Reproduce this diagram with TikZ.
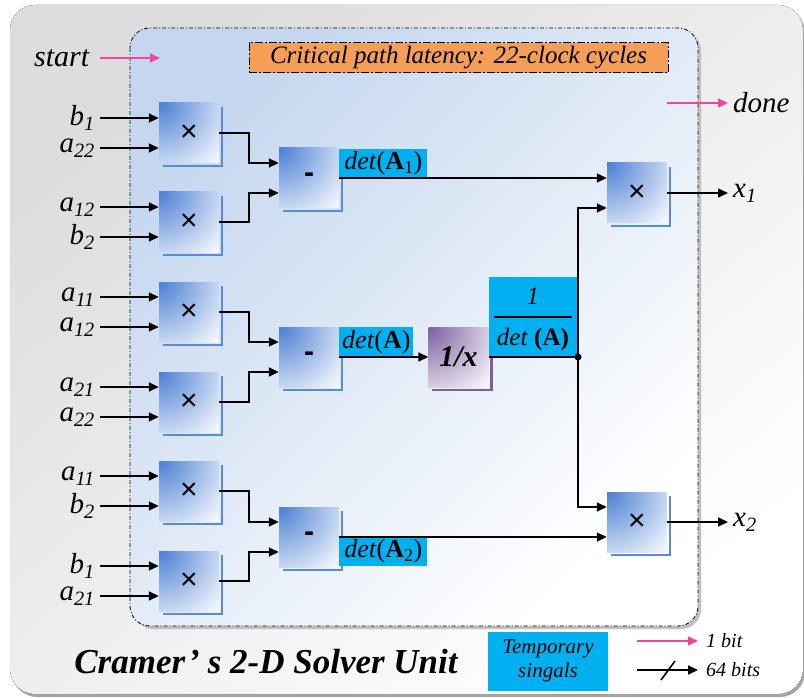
\documentclass[tikz,border=0pt]{standalone}
\usepackage{fontspec}
\setmainfont{Liberation Serif}[ItalicFont={Liberation Serif Italic},BoldItalicFont={Liberation Serif Bold Italic}]
\newfontfamily\opfont{Liberation Sans}
\usetikzlibrary{arrows.meta}
\definecolor{mulblue}{RGB}{74,127,212}
\definecolor{shadblue}{RGB}{88,140,215}
\definecolor{invpurple}{RGB}{125,95,160}
\definecolor{tmpcyan}{RGB}{0,176,240}
\definecolor{critorange}{RGB}{245,158,88}
\definecolor{bitpink}{RGB}{240,70,150}
\definecolor{panelblue}{RGB}{197,215,239}
\pgfdeclareradialshading{cornerblue}{\pgfpoint{0bp}{0bp}}{color(0bp)=(mulblue); color(31bp)=(white); color(50bp)=(white)}
\pgfdeclareradialshading{cornerpurple}{\pgfpoint{0bp}{0bp}}{color(0bp)=(invpurple); color(31bp)=(white); color(50bp)=(white)}
\newcommand\sig[2]{\textit{#1\textsubscript{#2}}}
\tikzset{
  opbox/.style={minimum width=60pt,minimum height=60pt,inner sep=0pt,fill=white,
    path picture={\shade[shading=#1]
      ([xshift=-70pt,yshift=70pt]path picture bounding box.north west) rectangle
      ([xshift=70pt,yshift=-70pt]path picture bounding box.north west);}},
  opbox/.default=cornerblue,
  mul/.style={opbox,font=\opfont\fontsize{30}{30}\selectfont},
  wire/.style={line width=1.6pt,-{Triangle[length=10pt,width=9pt]}},
  bus/.style={line width=1.6pt},
  bitline/.style={bitpink,line width=1.4pt,-{Triangle[length=10pt,width=9pt]}},
  tmp/.style={fill=tmpcyan,inner sep=0pt},
  lab/.style={font=\fontsize{29}{31}\selectfont,inner sep=5pt}
}
\begin{document}
\begin{tikzpicture}[x=1pt,y=-1pt]
\useasboundingbox (0,0) rectangle (804,698);
\fill[gray!70,rounded corners=25pt] (12,8) rectangle (805,697);
\fill[top color=gray!27,bottom color=white,shading angle=40,rounded corners=25pt] (10,5) rectangle (803,694);
\fill[gray!50,rounded corners=20pt] (133,31) rectangle (701,629);
\draw[line width=0.8pt,dash pattern=on 4pt off 2pt on 1pt off 2pt,rounded corners=20pt,
  top color=panelblue,middle color=panelblue!45!white,bottom color=white,shading angle=45] (130,28) rectangle (698,626);
\node[draw,fill=critorange,line width=1pt,dash pattern=on 8pt off 2pt on 2pt off 2pt,
  minimum width=419pt,minimum height=30pt,font=\itshape\fontsize{25}{27}\selectfont]
  (crit) at (458.5,58) {Critical path latency: 22-clock cycles};

\node[lab,anchor=east,font=\fontsize{30}{32}\selectfont] (start) at (95,58) {\textit{start}};
\coordinate (startin) at (160,58);
\draw[bitline] ([xshift=5pt]start.east) -- (startin);
\coordinate (doneout) at (667,103);
\node[lab,anchor=west] (done) at (728,103) {\textit{done}};
\draw[bitline] (doneout) -- (done.west);

\node[mul] (m1) at (189,133) {×};
\node[mul] (m2) at (189,222) {×};
\node[mul] (m3) at (189,312) {×};
\node[mul] (m4) at (189,402) {×};
\node[mul] (m5) at (189,491) {×};
\node[mul] (m6) at (189,581) {×};
\node[mul] (s1) at (309,178) {\bfseries -};
\node[mul] (s2) at (309,357) {\bfseries -};
\node[mul] (s3) at (309,537) {\bfseries -};
\node[opbox=cornerpurple,font=\bfseries\itshape\fontsize{30}{30}\selectfont] (inv) at (458.5,357) {1/x};
\node[mul] (m7) at (637,193) {×};
\node[mul] (m8) at (637,522) {×};
\foreach \n in {m1,m2,m3,m4,m5,m6,s1,s2,s3,m7,m8}
  \draw[shadblue,line width=2.5pt] ([xshift=3pt,yshift=-4pt]\n.north east) |- ([xshift=4pt,yshift=-3pt]\n.south west);
\draw[invpurple,line width=2.5pt] ([xshift=3pt,yshift=-4pt]inv.north east) |- ([xshift=4pt,yshift=-3pt]inv.south west);

\node[tmp,anchor=south west,minimum width=88pt,minimum height=29pt,font=\fontsize{26}{28}\selectfont]
  (d1) at (s1.east) {\textit{det}(\textbf{A}\textsubscript{1})};
\node[tmp,anchor=south west,minimum width=74pt,minimum height=30pt,font=\fontsize{26}{28}\selectfont]
  (d0) at (s2.east) {\textit{det}(\textbf{A})};
\node[tmp,anchor=north west,minimum width=88pt,minimum height=29pt,font=\fontsize{26}{28}\selectfont]
  (d2) at (s3.east) {\textit{det}(\textbf{A}\textsubscript{2})};
\node[tmp,anchor=south west,minimum width=88pt,minimum height=72pt,font=\fontsize{25}{30}\selectfont]
  (rdet) at (inv.east) {\setlength\arrayrulewidth{1.5pt}\renewcommand\arraystretch{1.3}%
  \begin{tabular}{@{\hspace{3pt}}c@{\hspace{3pt}}}\textit{1}\\\hline\textit{det} \textbf{(A)}\end{tabular}};

\node[lab,anchor=east] (i1) at (100,118) {\sig{b}{1}};
\node[lab,anchor=east] (i2) at (100,148) {\sig{a}{22}};
\node[lab,anchor=east] (i3) at (100,207) {\sig{a}{12}};
\node[lab,anchor=east] (i4) at (100,237) {\sig{b}{2}};
\node[lab,anchor=east] (i5) at (100,297) {\sig{a}{11}};
\node[lab,anchor=east] (i6) at (100,327) {\sig{a}{12}};
\node[lab,anchor=east] (i7) at (100,387) {\sig{a}{21}};
\node[lab,anchor=east] (i8) at (100,417) {\sig{a}{22}};
\node[lab,anchor=east] (i9) at (100,476) {\sig{a}{11}};
\node[lab,anchor=east] (i10) at (100,506) {\sig{b}{2}};
\node[lab,anchor=east] (i11) at (100,566) {\sig{b}{1}};
\node[lab,anchor=east] (i12) at (100,596) {\sig{a}{21}};
\draw[wire] (i1.east) -- (i1.east -| m1.west);
\draw[wire] (i2.east) -- (i2.east -| m1.west);
\draw[wire] (i3.east) -- (i3.east -| m2.west);
\draw[wire] (i4.east) -- (i4.east -| m2.west);
\draw[wire] (i5.east) -- (i5.east -| m3.west);
\draw[wire] (i6.east) -- (i6.east -| m3.west);
\draw[wire] (i7.east) -- (i7.east -| m4.west);
\draw[wire] (i8.east) -- (i8.east -| m4.west);
\draw[wire] (i9.east) -- (i9.east -| m5.west);
\draw[wire] (i10.east) -- (i10.east -| m5.west);
\draw[wire] (i11.east) -- (i11.east -| m6.west);
\draw[wire] (i12.east) -- (i12.east -| m6.west);

\draw[wire] (m1.east) -- ++(30,0) |- ([yshift=15pt]s1.west);
\draw[wire] (m2.east) -- ++(30,0) |- ([yshift=-15pt]s1.west);
\draw[wire] (m3.east) -- ++(30,0) |- ([yshift=15pt]s2.west);
\draw[wire] (m4.east) -- ++(30,0) |- ([yshift=-15pt]s2.west);
\draw[wire] (m5.east) -- ++(30,0) |- ([yshift=15pt]s3.west);
\draw[wire] (m6.east) -- ++(30,0) |- ([yshift=-15pt]s3.west);
\draw[wire] (s1.east) -- ([yshift=15pt]m7.west);
\draw[wire] (s2.east) -- (inv.west);
\draw[wire] (s3.east) -- ([yshift=-15pt]m8.west);
\coordinate (j) at (578,357);
\draw[bus] (inv.east) -- (j);
\fill (j) circle (3.5pt);
\draw[wire] (j) |- ([yshift=-15pt]m7.west);
\draw[wire] (j) |- ([yshift=15pt]m8.west);
\node[lab,anchor=west] (x1) at (728,193) {\sig{x}{1}};
\node[lab,anchor=west] (x2) at (728,522) {\sig{x}{2}};
\draw[wire] (m7.east) -- (x1.west);
\draw[wire] (m8.east) -- (x2.west);

\node[font=\bfseries\itshape\fontsize{35}{38}\selectfont] (title) at (266,662) {Cramer\kern3pt’\kern8pt s 2-D Solver Unit};
\node[tmp,minimum width=120pt,minimum height=59pt,align=center,font=\itshape\fontsize{21}{24}\selectfont]
  (tmpkey) at (548,661) {Temporary\\singals};
\coordinate (k1) at (637,641);
\node[anchor=west,inner sep=8pt,font=\itshape\fontsize{20}{22}\selectfont] (onebit) at (698,641) {1 bit};
\draw[bitline] (k1) -- (onebit.west);
\coordinate (k2) at (637,670);
\node[anchor=west,inner sep=8pt,font=\itshape\fontsize{20}{22}\selectfont] (sixtyfour) at (698,670) {64 bits};
\draw[wire] (k2) -- (sixtyfour.west);
\draw[bus] (661,680) -- (675,661);
\end{tikzpicture}
\end{document}
